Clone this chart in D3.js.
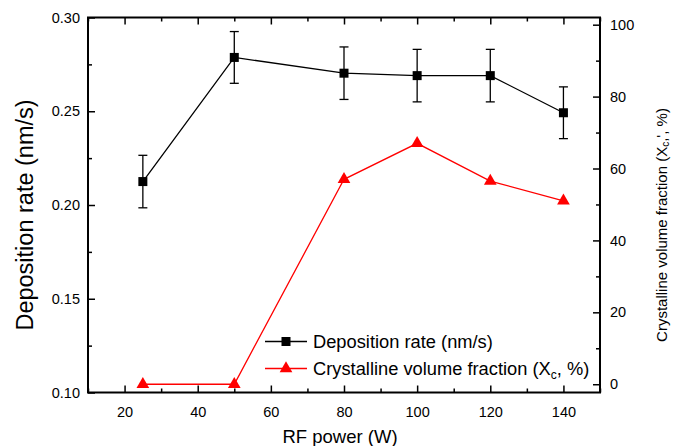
<!DOCTYPE html>
<html>
<head>
<meta charset="utf-8">
<script src="https://cdn.jsdelivr.net/npm/d3@7"></script>
<style>
  body { margin: 0; background: #fff; }
  text { font-family: "Liberation Sans", Arial, sans-serif; fill: #000; }
</style>
</head>
<body>
<div id="chart"></div>
<script>
var svgWidth = 673;
var svgHeight = 446;

var margin = { top: 17.5, right: 73, bottom: 53.5, left: 88 };
var width = svgWidth - margin.left - margin.right;
var height = svgHeight - margin.top - margin.bottom;

// data
var power = [25, 50, 80, 100, 120, 140];
var depRate = [0.2125, 0.2787, 0.2703, 0.2690, 0.2690, 0.2492];
var depErr = [0.014, 0.0138, 0.014, 0.014, 0.014, 0.0138];
var crystFrac = [0, 0, 57, 67, 56.5, 51];

var xTicks = [20, 40, 60, 80, 100, 120, 140];
var yLeftTicks = [0.10, 0.15, 0.20, 0.25, 0.30];
var yRightTicks = [0, 20, 40, 60, 80, 100];

var svg = d3.select("#chart")
  .append("svg")
  .attr("width", svgWidth)
  .attr("height", svgHeight);

var chartGroup = svg.append("g")
  .attr("transform", `translate(${margin.left}, ${margin.top})`);

var xScale = d3.scaleLinear().domain([10, 150]).range([0, width]);
var yLeft = d3.scaleLinear().domain([0.10, 0.30]).range([height, 0]);
var yRight = d3.scaleLinear().domain([-2.3, 102]).range([height, 0]);

// minor ticks first, then major ticks with labels
var xMinor = d3.range(10, 151, 10).filter(d => xTicks.indexOf(d) < 0);
chartGroup.append("g").attr("class", "ax")
  .attr("transform", `translate(0, ${height})`)
  .call(d3.axisBottom(xScale).tickValues(xMinor).tickSize(-4).tickFormat(""));
chartGroup.append("g").attr("class", "ax")
  .call(d3.axisTop(xScale).tickValues(xMinor).tickSize(-4).tickFormat(""));

chartGroup.append("g").attr("class", "ax lbl")
  .attr("transform", `translate(0, ${height})`)
  .call(d3.axisBottom(xScale).tickValues(xTicks).tickSizeInner(-7).tickPadding(14).tickFormat(d3.format("d")));
chartGroup.append("g").attr("class", "ax")
  .call(d3.axisTop(xScale).tickValues(xTicks).tickSizeInner(-7).tickFormat(""));

var yLMinor = [0.125, 0.175, 0.225, 0.275];
chartGroup.append("g").attr("class", "ax")
  .call(d3.axisLeft(yLeft).tickValues(yLMinor).tickSize(-4).tickFormat(""));
chartGroup.append("g").attr("class", "ax lbl")
  .call(d3.axisLeft(yLeft).tickValues(yLeftTicks).tickSizeInner(-7).tickPadding(8).tickFormat(d3.format(".2f")));

var yRMinor = [10, 30, 50, 70, 90];
chartGroup.append("g").attr("class", "ax")
  .attr("transform", `translate(${width}, 0)`)
  .call(d3.axisRight(yRight).tickValues(yRMinor).tickSize(-4).tickFormat(""));
chartGroup.append("g").attr("class", "ax lbl")
  .attr("transform", `translate(${width}, 0)`)
  .call(d3.axisRight(yRight).tickValues(yRightTicks).tickSizeInner(-7).tickPadding(10).tickFormat(d3.format("d")));

chartGroup.selectAll(".ax .domain").remove();
chartGroup.selectAll(".ax line").attr("stroke", "#000").attr("stroke-width", 1.5);
chartGroup.selectAll(".lbl text").style("font-size", "14.5px").attr("fill", "#000");

// frame
chartGroup.append("rect")
  .attr("width", width)
  .attr("height", height)
  .attr("fill", "none")
  .attr("stroke", "#000")
  .attr("stroke-width", 2);

// crystalline fraction line (red)
var redLine = d3.line()
  .x((d, i) => xScale(power[i]))
  .y(d => yRight(d));

chartGroup.append("path")
  .datum(crystFrac)
  .attr("d", redLine)
  .attr("fill", "none")
  .attr("stroke", "#ff0000")
  .attr("stroke-width", 1.3);

var tri = d3.symbol().type(d3.symbolTriangle).size(70);
chartGroup.selectAll(".tri")
  .data(crystFrac)
  .enter()
  .append("path")
  .attr("class", "tri")
  .attr("d", tri)
  .attr("transform", (d, i) => `translate(${xScale(power[i])}, ${yRight(d)})`)
  .attr("fill", "#ff0000");

// deposition rate line with error bars (black)
var blackLine = d3.line()
  .x((d, i) => xScale(power[i]))
  .y(d => yLeft(d));

chartGroup.append("path")
  .datum(depRate)
  .attr("d", blackLine)
  .attr("fill", "none")
  .attr("stroke", "#000")
  .attr("stroke-width", 1.3);

var errG = chartGroup.selectAll(".err")
  .data(depRate)
  .enter()
  .append("g")
  .attr("class", "err")
  .attr("stroke", "#000")
  .attr("stroke-width", 1.3);

errG.append("line")
  .attr("x1", (d, i) => xScale(power[i]))
  .attr("x2", (d, i) => xScale(power[i]))
  .attr("y1", (d, i) => yLeft(d + depErr[i]))
  .attr("y2", (d, i) => yLeft(d - depErr[i]));
[1, -1].forEach(function(s) {
  errG.append("line")
    .attr("x1", (d, i) => xScale(power[i]) - 4.5)
    .attr("x2", (d, i) => xScale(power[i]) + 4.5)
    .attr("y1", (d, i) => yLeft(d + s * depErr[i]))
    .attr("y2", (d, i) => yLeft(d + s * depErr[i]));
});

chartGroup.selectAll(".sq")
  .data(depRate)
  .enter()
  .append("rect")
  .attr("class", "sq")
  .attr("x", (d, i) => xScale(power[i]) - 4.5)
  .attr("y", d => yLeft(d) - 4.5)
  .attr("width", 9)
  .attr("height", 9)
  .attr("fill", "#000");

// legend
var legend = chartGroup.append("g")
  .attr("transform", `translate(${265 - margin.left}, ${341.5 - margin.top})`);

legend.append("line").attr("x1", 0).attr("x2", 42).attr("y1", 0).attr("y2", 0)
  .attr("stroke", "#000").attr("stroke-width", 1.3);
legend.append("rect").attr("x", 16.5).attr("y", -4.5).attr("width", 9).attr("height", 9).attr("fill", "#000");
legend.append("text").attr("x", 48).attr("y", 0).attr("dy", "0.35em")
  .style("font-size", "18.3px").text("Deposition rate (nm/s)");

legend.append("line").attr("x1", 0).attr("x2", 42).attr("y1", 27).attr("y2", 27)
  .attr("stroke", "#ff0000").attr("stroke-width", 1.3);
legend.append("path").attr("d", tri).attr("transform", "translate(21, 27)").attr("fill", "#ff0000");
var lt = legend.append("text").attr("x", 48).attr("y", 27).attr("dy", "0.35em")
  .style("font-size", "18.3px");
lt.append("tspan").text("Crystalline volume fraction (X");
lt.append("tspan").attr("dy", "4").style("font-size", "12px").text("c");
lt.append("tspan").attr("dy", "-4").text(", %)");

// axis titles
svg.append("text")
  .attr("transform", "translate(33, 215) rotate(-90)")
  .style("text-anchor", "middle")
  .style("font-size", "23.5px")
  .text("Deposition rate (nm/s)");

svg.append("text")
  .attr("x", 340)
  .attr("y", 443)
  .style("text-anchor", "middle")
  .style("font-size", "18.5px")
  .text("RF power (W)");

var rt = svg.append("text")
  .attr("transform", "translate(667, 225) rotate(-90)")
  .style("text-anchor", "middle")
  .style("font-size", "15px");
rt.append("tspan").text("Crystalline volume fraction (X");
rt.append("tspan").attr("dy", "2").style("font-size", "10px").text("c");
rt.append("tspan").attr("dy", "-2").text(",', %)");
</script>
</body>
</html>
